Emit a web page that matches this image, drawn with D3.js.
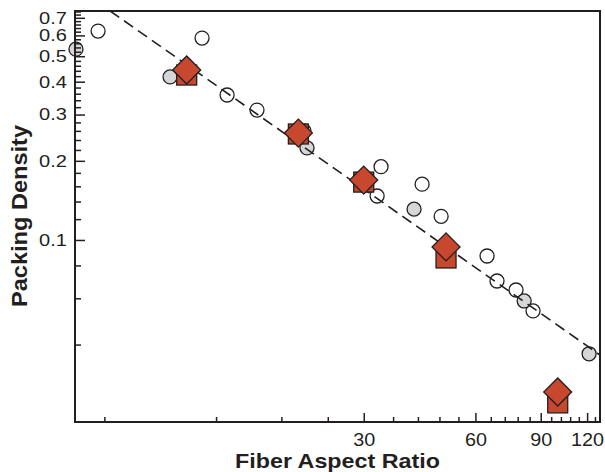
<!DOCTYPE html>
<html>
<head>
<meta charset="utf-8">
<title>Packing Density</title>
<script src="https://d3js.org/d3.v7.min.js"></script>
<style>
  body { margin: 0; background: white; }
  text { font-family: "Liberation Sans", Arial, sans-serif; }
</style>
</head>
<body>
<svg id="chart" width="605" height="472"></svg>
<script>
// values (aspect ratio, packing density)
var openX = [5.77, 11.0, 12.85, 15.47, 20.7, 33.4, 32.6, 43.1, 48.5, 64.5, 68.6, 77.2, 85.8];
var openY = [0.623, 0.586, 0.356, 0.312, 0.260, 0.190, 0.147, 0.163, 0.123, 0.0869, 0.0698, 0.0645, 0.0537];
var grayX = [5.03, 9.02, 21.1, 41.0, 81.2, 121.5];
var grayY = [0.532, 0.417, 0.224, 0.131, 0.0586, 0.0369];
var aspect = [10, 20, 30, 50, 100];
var squareY = [0.424, 0.253, 0.166, 0.0854, 0.024];
var diamondY = [0.443, 0.255, 0.169, 0.0941, 0.0264];
var fitX = [6.22, 130];
var fitY = [0.743, 0.0365];

var xTicks = [30, 60, 90, 120];
var yTicks = [0.1, 0.2, 0.3, 0.4, 0.5, 0.6, 0.7];

var margin = {top: 11, right: 5, bottom: 50, left: 75},
    width = 605 - margin.left - margin.right,
    height = 472 - margin.top - margin.bottom;

var red = "#c8472f", ink = "#231f20";

var svg = d3.select("#chart")
  .append("g")
  .attr("transform", "translate(" + margin.left + "," + margin.top + ")");

var x = d3.scaleLog().domain([5, 130]).range([0, width]);
var y = d3.scaleLog().domain([0.0203, 0.743]).range([height, 0]);

svg.append("clipPath").attr("id", "plotClip")
  .append("rect").attr("width", width).attr("height", height);

// open and gray circles
svg.append("g").selectAll("circle")
  .data(d3.zip(openX, openY))
  .enter().append("circle")
    .attr("cx", function(d) { return x(d[0]); })
    .attr("cy", function(d) { return y(d[1]); })
    .attr("r", 7)
    .style("fill", "white")
    .style("stroke", ink)
    .style("stroke-width", 1.3);

svg.append("g").selectAll("circle")
  .data(d3.zip(grayX, grayY))
  .enter().append("circle")
    .attr("cx", function(d) { return x(d[0]); })
    .attr("cy", function(d) { return y(d[1]); })
    .attr("r", 7)
    .style("fill", "#d5d6d7")
    .style("stroke", ink)
    .style("stroke-width", 1.3);

// dashed fit
svg.append("path")
  .datum(d3.zip(fitX, fitY))
  .attr("clip-path", "url(#plotClip)")
  .attr("d", d3.line().x(function(d) { return x(d[0]); }).y(function(d) { return y(d[1]); }))
  .style("fill", "none")
  .style("stroke", ink)
  .style("stroke-width", 1.6)
  .style("stroke-dasharray", "11,6");

// squares then diamonds on top
svg.append("g").selectAll("rect")
  .data(d3.zip(aspect, squareY))
  .enter().append("rect")
    .attr("x", function(d) { return x(d[0]) - 10; })
    .attr("y", function(d) { return y(d[1]) - 10; })
    .attr("width", 20)
    .attr("height", 20)
    .style("fill", red)
    .style("stroke", ink)
    .style("stroke-width", 1.3);

var diamond = d3.symbol().type(d3.symbolSquare).size(392);
svg.append("g").selectAll("path")
  .data(d3.zip(aspect, diamondY))
  .enter().append("path")
    .attr("d", diamond)
    .attr("transform", function(d) { return "translate(" + x(d[0]) + "," + y(d[1]) + ")rotate(45)"; })
    .style("fill", red)
    .style("stroke", ink)
    .style("stroke-width", 1.3);

// frame
svg.append("rect")
  .attr("width", width)
  .attr("height", height)
  .style("fill", "none")
  .style("stroke", ink)
  .style("stroke-width", 2);

// minor ticks every 6 on x and every 0.02 on y, pointing inward
var xMinor = d3.range(6, 130, 6).filter(function(v) { return xTicks.indexOf(v) < 0; });
var yMinor = d3.range(2, 75, 2).map(function(v) { return v / 100; })
  .filter(function(v) { return v >= 0.0203 && v <= 0.743 && v * 100 % 10 > 0.5 && v * 100 % 10 < 9.5; });

svg.append("g")
  .attr("transform", "translate(0," + height + ")")
  .call(d3.axisBottom(x).tickValues(xMinor).tickFormat("").tickSizeInner(-5).tickSizeOuter(0))
  .call(function(g) { g.select(".domain").remove(); });

svg.append("g")
  .call(d3.axisLeft(y).tickValues(yMinor).tickFormat("").tickSizeInner(-6).tickSizeOuter(0))
  .call(function(g) { g.select(".domain").remove(); });

var xAxis = svg.append("g")
  .attr("transform", "translate(0," + height + ")")
  .call(d3.axisBottom(x).tickValues(xTicks).tickFormat(d3.format("d")).tickSizeInner(-9).tickSizeOuter(0).tickPadding(11))
  .call(function(g) { g.select(".domain").remove(); });

var yAxis = svg.append("g")
  .call(d3.axisLeft(y).tickValues(yTicks).tickFormat(d3.format(".1f")).tickSizeInner(-10).tickSizeOuter(0).tickPadding(8))
  .call(function(g) { g.select(".domain").remove(); });

svg.selectAll(".tick line").style("stroke", ink).style("stroke-width", 1.5);

// labels in the picture run a little wider than Arial, so stretch them a bit
function widen(sel, size, factor) {
  sel.style("font-family", "'Liberation Sans', Arial, sans-serif")
    .style("font-size", size + "px")
    .style("fill", ink)
    .each(function() {
      var w = this.getComputedTextLength();
      d3.select(this).attr("textLength", w * factor).attr("lengthAdjust", "spacingAndGlyphs");
    });
}
widen(xAxis.selectAll(".tick text"), 18.5, 1.07);
widen(yAxis.selectAll(".tick text"), 17, 1.18);

// axis titles
svg.append("text")
  .attr("x", 337.5 - margin.left)
  .attr("y", 468 - margin.top)
  .attr("text-anchor", "middle")
  .attr("textLength", 205)
  .attr("lengthAdjust", "spacingAndGlyphs")
  .style("font-size", "21px")
  .style("font-weight", "bold")
  .style("fill", ink)
  .text("Fiber Aspect Ratio");

svg.append("text")
  .attr("transform", "translate(" + (27 - margin.left) + "," + (216 - margin.top) + ")rotate(-90)")
  .attr("text-anchor", "middle")
  .attr("textLength", 182)
  .attr("lengthAdjust", "spacingAndGlyphs")
  .style("font-size", "22px")
  .style("font-weight", "bold")
  .style("fill", ink)
  .text("Packing Density");
</script>
</body>
</html>
